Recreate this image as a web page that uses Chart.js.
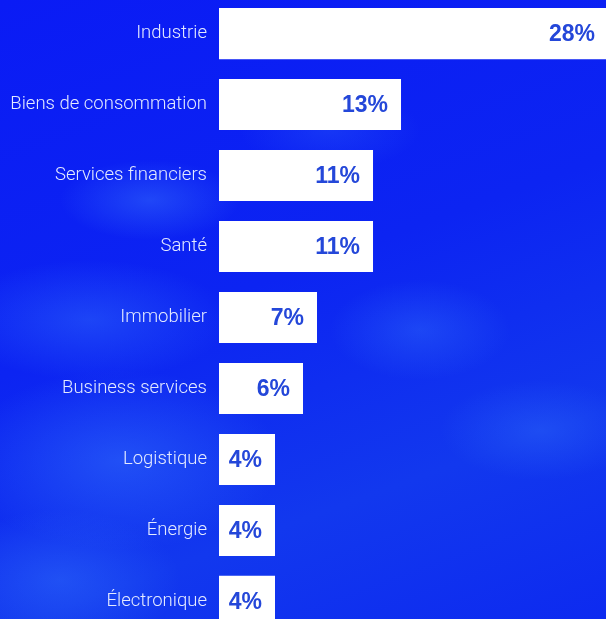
<!DOCTYPE html>
<html>
<head>
<meta charset="utf-8">
<script src="https://cdn.jsdelivr.net/npm/chart.js@4"></script>
<style>
  html, body { margin: 0; padding: 0; width: 606px; height: 619px; overflow: hidden; }
  body {
    position: relative;
    background-color: #0b1ef4;
    background-image:
      radial-gradient(ellipse 90px 40px at 150px 200px, rgba(70,140,255,0.35), rgba(70,140,255,0) 100%),
      radial-gradient(ellipse 140px 60px at 90px 320px, rgba(60,130,255,0.35), rgba(60,130,255,0) 100%),
      radial-gradient(ellipse 160px 90px at 120px 460px, rgba(60,130,255,0.40), rgba(60,130,255,0) 100%),
      radial-gradient(ellipse 120px 70px at 60px 580px, rgba(60,130,255,0.35), rgba(60,130,255,0) 100%),
      radial-gradient(ellipse 90px 50px at 420px 330px, rgba(60,130,255,0.30), rgba(60,130,255,0) 100%),
      radial-gradient(ellipse 100px 50px at 540px 430px, rgba(60,130,255,0.28), rgba(60,130,255,0) 100%),
      radial-gradient(ellipse 90px 40px at 330px 130px, rgba(60,130,255,0.22), rgba(60,130,255,0) 100%),
      linear-gradient(160deg, #0a1bf5 0%, #0c24f2 45%, #1238ee 75%, #0d2af0 100%);
  }
  #c { position: absolute; left: 0; top: -25px; width: 606px; height: 685px; }
</style>
</head>
<body>
<canvas id="c" width="606" height="685"></canvas>
<script>
const categories = ["Industrie", "Biens de consommation", "Services financiers", "Santé", "Immobilier", "Business services", "Logistique", "Énergie", "Électronique"];
const values = [28, 13, 11, 11, 7, 6, 4, 4, 4];
const valueLabels = ["28%", "13%", "11%", "11%", "7%", "6%", "4%", "4%", "4%"];

const valueLabelPlugin = {
  id: 'valueLabels',
  afterDatasetsDraw(chart) {
    const ctx = chart.ctx;
    const meta = chart.getDatasetMeta(0);
    const area = chart.chartArea;
    ctx.save();
    ctx.font = 'bold 23px "Liberation Sans"';
    ctx.fillStyle = '#2447d9';
    ctx.textAlign = 'right';
    ctx.textBaseline = 'middle';
    meta.data.forEach((bar, i) => {
      const x = Math.min(bar.x - 13, area.right - 11);
      ctx.fillText(valueLabels[i], x, bar.y + 1);
    });
    ctx.restore();
  }
};

new Chart(document.getElementById('c'), {
  type: 'bar',
  data: {
    labels: categories,
    datasets: [{
      data: values,
      backgroundColor: '#ffffff',
      borderWidth: 0,
      categoryPercentage: 1,
      barPercentage: 0.72
    }]
  },
  options: {
    indexAxis: 'y',
    responsive: false,
    animation: false,
    devicePixelRatio: 1,
    layout: { padding: 0 },
    plugins: { legend: { display: false }, tooltip: { enabled: false } },
    scales: {
      x: { display: false, min: 0, max: 27.64 },
      y: {
        afterFit(scale) { scale.width = 219; },
        grid: { display: false, drawTicks: false },
        border: { display: false },
        ticks: {
          color: '#e4eaff',
          padding: 12,
          font: { family: 'Roboto', size: 18.5, weight: '300' }
        }
      }
    }
  },
  plugins: [valueLabelPlugin]
});
</script>
</body>
</html>
